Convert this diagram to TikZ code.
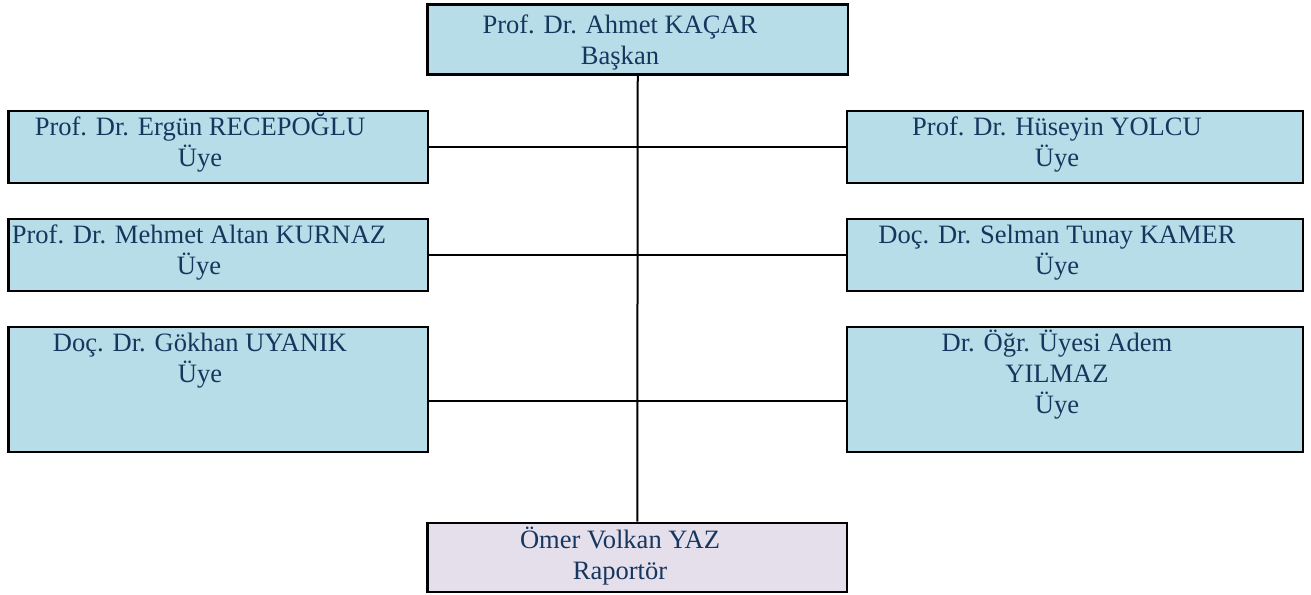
\documentclass[tikz,border=0pt]{standalone}
\usepackage{fontspec}
\setmainfont{Liberation Serif}
\usetikzlibrary{fit}
\definecolor{boxblue}{HTML}{B7DDE8}
\definecolor{boxlilac}{HTML}{E5DFEC}
\definecolor{txtnavy}{RGB}{23,54,93}
\tikzset{
  bluebox/.style={draw=black, line width=2.1pt, fill=boxblue, inner sep=0pt},
  lilacbox/.style={draw=black, line width=2.1pt, fill=boxlilac, inner sep=0pt},
  conn/.style={draw=black, line width=1.5pt},
  label/.style={anchor=base, inner sep=0pt, text=txtnavy,
    font=\fontsize{19.9}{23.25}\selectfont}
}
\newcommand{\lines}[1]{\begin{tabular}[t]{@{}c@{}}#1\end{tabular}}
\begin{document}
\begin{tikzpicture}[x=0.75pt,y=-0.75pt]
\useasboundingbox (0,0) rectangle (1311,594);
% boxes
\node[bluebox, fit={(427.5,4.5) (848,74.5)}] (top) {};
\node[bluebox, fit={(8.5,111) (428,183)}] (l1) {};
\node[bluebox, fit={(8.5,219) (428,291)}] (l2) {};
\node[bluebox, fit={(8.5,327) (428,452)}] (l3) {};
\node[bluebox, fit={(847,111) (1303,183)}] (r1) {};
\node[bluebox, fit={(847,219) (1303,291)}] (r2) {};
\node[bluebox, fit={(847,327) (1303,452)}] (r3) {};
\node[lilacbox, fit={(427.5,523) (847,592)}] (bot) {};
% texts
\node[label] (ttop) at (620,33) {\lines{Prof. Dr. Ahmet KAÇAR\\Başkan}};
\node[label] (tl1) at (200,135) {\lines{Prof. Dr. Ergün RECEPOĞLU\\Üye}};
\node[label] (tl2) at (199,243) {\lines{Prof. Dr. Mehmet Altan KURNAZ\\Üye}};
\node[label] (tl3) at (200,351) {\lines{Doç. Dr. Gökhan UYANIK\\Üye}};
\node[label] (tr1) at (1057,135) {\lines{Prof. Dr. Hüseyin YOLCU\\Üye}};
\node[label] (tr2) at (1057,243) {\lines{Doç. Dr. Selman Tunay KAMER\\Üye}};
\node[label] (tr3) at (1057,351) {\lines{Dr. Öğr. Üyesi Adem\\YILMAZ\\Üye}};
\node[label] (tbot) at (620,548) {\lines{Ömer Volkan YAZ\\Raportör}};
% connectors
\coordinate (h3) at (638,401);
\draw[conn] (top.south) -- (bot.north);
\draw[conn] (l1.east) -- (r1.west);
\draw[conn] (l2.east) -- (r2.west);
\draw[conn] (h3 -| l3.east) -- (h3 -| r3.west);
\end{tikzpicture}
\end{document}
